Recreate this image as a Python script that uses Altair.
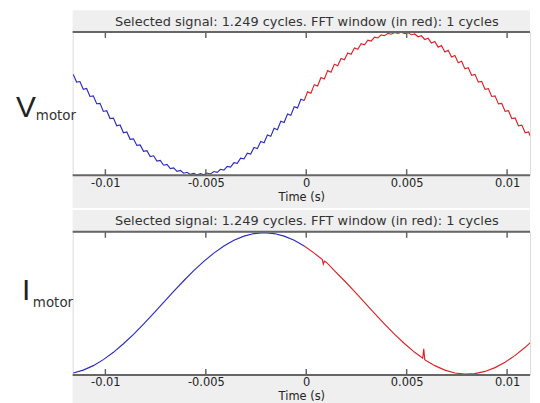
import altair as alt
import pandas as pd

# ---------------- data ----------------
TITLE = "Selected signal: 1.249 cycles. FFT window (in red): 1 cycles"
TICK_VALUES = [-0.01, -0.005, 0, 0.005, 0.01]
X_DOMAIN = [-0.01163, 0.01114]

# V_motor: sampling grid (ms) and sampled values (normalised)
T_V_MS = [round(-11.6 + i / 6, 4) for i in range(140)]
V_VALUES = [
    0.413, 0.304, 0.312, 0.203, 0.214, 0.101, 0.109, -0.002, 0.004, -0.111,
    -0.101, -0.212, -0.205, -0.314, -0.302, -0.413, -0.401, -0.505, -0.498, -0.591,
    -0.584, -0.674, -0.666, -0.750, -0.738, -0.813, -0.804, -0.871, -0.861, -0.919,
    -0.908, -0.957, -0.945, -0.984, -0.971, -1.001, -0.987, -1.010, -0.990, -1.007,
    -0.981, -0.995, -0.960, -0.973, -0.929, -0.940, -0.887, -0.897, -0.835, -0.844,
    -0.771, -0.782, -0.700, -0.713, -0.621, -0.637, -0.536, -0.553, -0.445, -0.463,
    -0.348, -0.369, -0.249, -0.268, -0.147, -0.166, -0.044, -0.061, 0.061, 0.044,
    0.166, 0.147, 0.268, 0.249, 0.369, 0.348, 0.466, 0.442, 0.555, 0.534,
    0.639, 0.619, 0.716, 0.697, 0.785, 0.768, 0.846, 0.831, 0.897, 0.885,
    0.939, 0.928, 0.971, 0.960, 0.993, 0.981, 1.005, 0.992, 1.008, 0.989,
    1.001, 0.973, 0.984, 0.945, 0.959, 0.906, 0.923, 0.857, 0.877, 0.798,
    0.821, 0.730, 0.755, 0.658, 0.681, 0.577, 0.598, 0.491, 0.507, 0.401,
    0.413, 0.304, 0.314, 0.203, 0.212, 0.101, 0.109, -0.004, 0.004, -0.109,
    -0.101, -0.212, -0.203, -0.314, -0.304, -0.413, -0.401, -0.507, -0.493, -0.596,
]
V_SPLIT = 69  # first sample of the red FFT window

# I_motor
T_I_MS = [-11.6, -11.1, -10.6, -10.1, -9.6, -9.1, -8.6, -8.1, -7.6, -7.1, -6.6, -6.1,
          -5.6, -5.1, -4.6, -4.1, -3.6, -3.1, -2.6, -2.1, -1.6, -1.1, -0.6, -0.1,
          0.4, 0.8, 0.85, 0.9, 1.0, 1.4, 1.9, 2.4, 2.9, 3.4, 3.9, 4.4, 4.9, 5.4,
          5.8, 5.85, 5.9, 6.0, 6.4, 6.9, 7.4, 7.9, 8.4, 8.9, 9.4, 9.9, 10.4, 10.9,
          11.4, 11.9]
I_VALUES = [-0.983, -0.942, -0.879, -0.794, -0.691, -0.570, -0.436, -0.291, -0.140,
            0.016, 0.170, 0.321, 0.464, 0.595, 0.712, 0.813, 0.893, 0.952, 0.988,
            1.000, 0.988, 0.952, 0.893, 0.813,
            0.712, 0.620, 0.555, 0.598, 0.583, 0.464, 0.321, 0.170, 0.016, -0.140,
            -0.291, -0.436, -0.570, -0.691, -0.775, -0.640, -0.794, -0.813, -0.879,
            -0.942, -0.983, -1.000, -0.992, -0.961, -0.907, -0.830, -0.734, -0.620,
            -0.491, -0.350]
I_SPLIT = 23

# ---------------- styling ----------------
FONT = "DejaVu Sans"
BIGFONT = "Liberation Sans"
BLUE = "#2a2ac4"
RED = "#dd2226"
GRAY = "#efefef"
AXC = "#666666"
W = 460


def series_df(t_ms, vals, split):
    rows = []
    for i, (t, v) in enumerate(zip(t_ms, vals)):
        if i <= split:
            rows.append({"t": t / 1000.0, "v": v, "seg": "pre"})
        if i >= split:
            rows.append({"t": t / 1000.0, "v": v, "seg": "win"})
    return pd.DataFrame(rows)


ONE = pd.DataFrame({"k": [0]})
TICKS_DF = pd.DataFrame({"t": TICK_VALUES})

XSCALE = alt.Scale(domain=X_DOMAIN, nice=False, zero=False)
XAXIS = alt.Axis(values=TICK_VALUES, labelExpr="'' + datum.value", title="Time (s)",
                 ticks=False, tickSize=0, domain=False, grid=False, labelFlush=False,
                 labelFontSize=11.5, titleFontSize=11.5, titleFontWeight="normal",
                 labelColor="#222", titleColor="#222", labelFont=FONT, titleFont=FONT,
                 labelPadding=2, titlePadding=2.5, zindex=1)


def panel(df, h, top_ext, bottom_ext, big, bx, by, sx, sy):
    one = alt.Chart(ONE)
    top_band = one.mark_rect(color=GRAY).encode(
        x=alt.value(0), x2=alt.value(W), y=alt.value(-top_ext), y2=alt.value(0))
    bottom_band = one.mark_rect(color=GRAY).encode(
        x=alt.value(0), x2=alt.value(W), y=alt.value(h), y2=alt.value(h + bottom_ext))
    spacer = one.mark_rect(color="white").encode(
        x=alt.value(-64), x2=alt.value(-63), y=alt.value(0), y2=alt.value(1))
    lines = alt.Chart(df).mark_line(strokeWidth=1.15, clip=True).encode(
        x=alt.X("t:Q", scale=XSCALE, axis=XAXIS),
        y=alt.Y("v:Q", scale=alt.Scale(domain=[-1.012, 1.012], nice=False, zero=False),
                axis=None),
        color=alt.Color("seg:N", scale=alt.Scale(domain=["pre", "win"], range=[BLUE, RED]),
                        legend=None),
        order="t:Q",
    )
    ticks_b = alt.Chart(TICKS_DF).mark_rule(color=AXC, strokeWidth=1.5).encode(
        x=alt.X("t:Q", scale=XSCALE, axis=XAXIS), y=alt.value(h), y2=alt.value(h - 6))
    ticks_t = alt.Chart(TICKS_DF).mark_rule(color=AXC, strokeWidth=1.5).encode(
        x=alt.X("t:Q", scale=XSCALE, axis=XAXIS), y=alt.value(0), y2=alt.value(6))
    line_top = one.mark_rule(color=AXC, strokeWidth=2).encode(
        x=alt.value(0), x2=alt.value(W), y=alt.value(0))
    line_bot = one.mark_rule(color=AXC, strokeWidth=2).encode(
        x=alt.value(0), x2=alt.value(W), y=alt.value(h))
    title = one.mark_text(text=TITLE, fontSize=13, font=FONT, color="#333",
                          baseline="middle").encode(x=alt.value(235.5), y=alt.value(-10.5))
    big_t = one.mark_text(text=big, fontSize=30, font=BIGFONT, color="#222", align="left",
                          baseline="alphabetic").encode(x=alt.value(bx), y=alt.value(by))
    sub_t = one.mark_text(text="motor", fontSize=13.5, font=FONT, color="#333", align="left",
                          baseline="alphabetic").encode(x=alt.value(sx), y=alt.value(sy))
    return alt.layer(top_band, bottom_band, spacer, lines, ticks_b, ticks_t, line_top,
                     line_bot, title, big_t, sub_t).properties(width=W, height=h)


p1 = panel(series_df(T_V_MS, V_VALUES, V_SPLIT), 144, 22, 33, "V", -57, 85, -37, 89)
p2 = panel(series_df(T_I_MS, I_VALUES, I_SPLIT), 144, 22, 30, "I", -51, 69, -40, 76)

chart = alt.vconcat(p1, p2, spacing=0).properties(padding=0).configure_view(
    strokeWidth=0).configure(font=FONT)

chart.save("out.html", embed_options={"renderer": "svg", "actions": False})
